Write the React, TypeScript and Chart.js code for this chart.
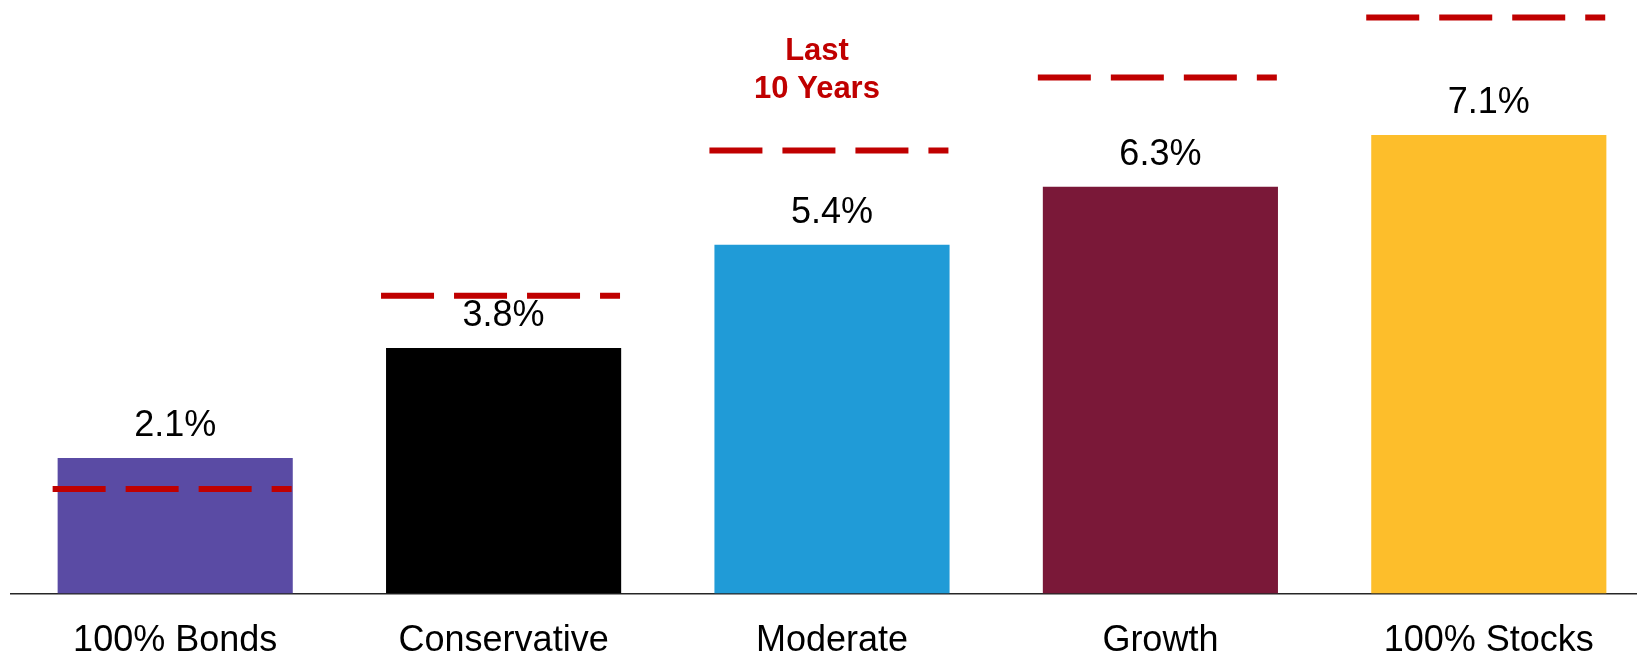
import React, { useEffect, useRef } from "react";
import { Chart, registerables } from "chart.js";

Chart.register(...registerables);

// Portfolio mixes and their average annual returns
const categories = ["100% Bonds", "Conservative", "Moderate", "Growth", "100% Stocks"];
const returns = [2.1, 3.8, 5.4, 6.3, 7.1];
// Returns over the last ten years, drawn as dashed markers
const lastTenYears = [1.62, 4.61, 6.86, 7.99, 8.92];
const barColors = ["#5A4BA4", "#000000", "#209BD7", "#7A1838", "#FDBE2B"];
const markerCaption = ["Last", "10 Years"];
const markerCaptionIndex = 2;

const FONT = "'Liberation Sans', Arial, Helvetica, sans-serif";
const RED = "#C00000";

const overlayPlugin = {
  id: "returnOverlay",
  afterDatasetsDraw(chart: any) {
    const { ctx } = chart;
    const meta = chart.getDatasetMeta(0);
    const yScale = chart.scales.y;
    ctx.save();

    // dashed ten-year markers
    ctx.strokeStyle = RED;
    ctx.lineWidth = 6;
    ctx.lineCap = "butt";
    ctx.setLineDash([53, 20]);
    meta.data.forEach((bar: any, i: number) => {
      const y = yScale.getPixelForValue(lastTenYears[i]);
      const x0 = bar.x - bar.width / 2 - 5;
      ctx.beginPath();
      ctx.moveTo(x0, y);
      ctx.lineTo(x0 + 239, y);
      ctx.stroke();
    });
    ctx.setLineDash([]);

    // value labels above each bar
    ctx.fillStyle = "#000000";
    ctx.font = `36px ${FONT}`;
    ctx.textAlign = "center";
    ctx.textBaseline = "alphabetic";
    meta.data.forEach((bar: any, i: number) => {
      ctx.fillText(`${returns[i].toFixed(1)}%`, bar.x, bar.y - 22);
    });

    // caption above the moderate marker
    const ref = meta.data[markerCaptionIndex];
    const yRef = yScale.getPixelForValue(lastTenYears[markerCaptionIndex]);
    ctx.fillStyle = RED;
    ctx.font = `bold 31px ${FONT}`;
    const cx = ref.x - 15;
    const lineGap = 38;
    markerCaption.forEach((line, k) => {
      const baseY = yRef - 52 - (markerCaption.length - 1 - k) * lineGap;
      ctx.fillText(line, cx, baseY);
    });

    ctx.restore();
  },
};

export default function App() {
  const canvasRef = useRef<HTMLCanvasElement | null>(null);

  useEffect(() => {
    document.body.style.margin = "0";
    const canvas = canvasRef.current;
    if (!canvas) return;
    const chart = new Chart(canvas, {
      type: "bar",
      data: {
        labels: categories,
        datasets: [
          {
            data: returns,
            backgroundColor: barColors,
            borderWidth: 0,
            barPercentage: 0.716,
            categoryPercentage: 1,
          },
        ],
      },
      options: {
        responsive: false,
        animation: false,
        devicePixelRatio: 1,
        layout: { padding: { left: 11, right: 0, top: 0, bottom: 0 } },
        plugins: {
          legend: { display: false },
          tooltip: { enabled: false },
        },
        scales: {
          x: {
            grid: { display: false, drawTicks: false },
            border: { display: true, color: "#262626", width: 1.5 },
            ticks: {
              color: "#000000",
              font: { family: FONT, size: 36 },
              padding: 26,
              maxRotation: 0,
              autoSkip: false,
            },
            afterFit(scale: any) {
              scale.height = 58.5;
            },
          },
          y: {
            display: false,
            min: 0,
            max: 9.19,
          },
        },
      },
      plugins: [overlayPlugin],
    });
    return () => chart.destroy();
  }, []);

  return (
    <div
      style={{
        position: "absolute",
        left: 0,
        top: 0,
        width: 1637,
        height: 652,
        overflow: "hidden",
        background: "#ffffff",
      }}
    >
      <canvas ref={canvasRef} width={1653} height={652} style={{ display: "block" }} />
    </div>
  );
}
